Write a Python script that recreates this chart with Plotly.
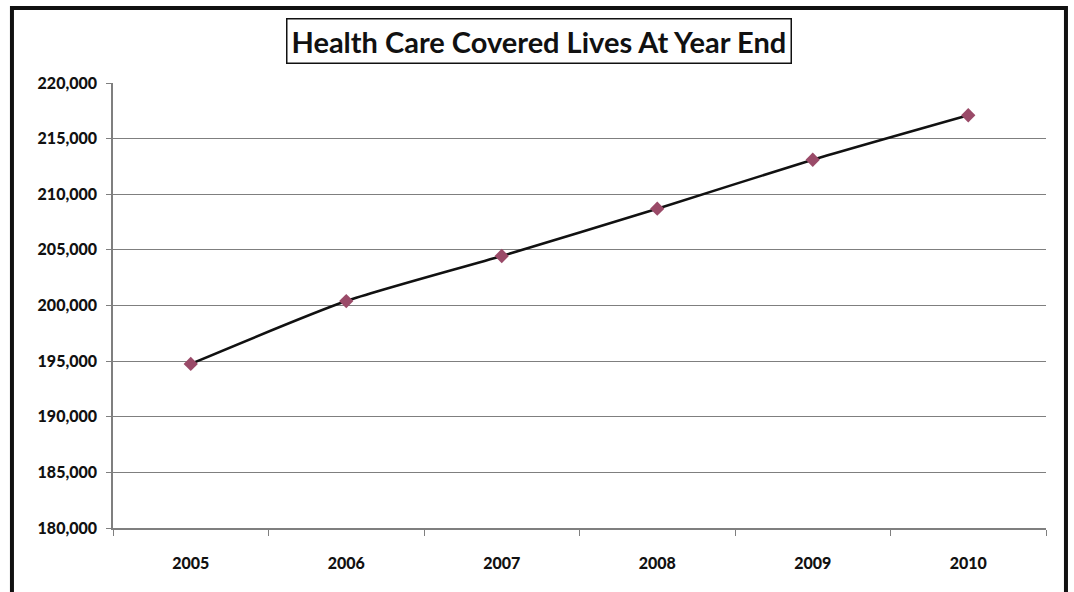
import plotly.graph_objects as go

# Covered lives at year end
years = ["2005", "2006", "2007", "2008", "2009", "2010"]
covered_lives = [194750, 200400, 204450, 208700, 213100, 217100]

y_tick_values = [180000, 185000, 190000, 195000, 200000, 205000, 210000, 215000, 220000]
y_tick_labels = ["180,000", "185,000", "190,000", "195,000", "200,000",
                 "205,000", "210,000", "215,000", "220,000"]

title_text = "Health Care Covered Lives At Year End"

FONT = "Lato, 'Open Sans', sans-serif"
GRID = "#7f7f7f"

fig = go.Figure()
fig.add_trace(go.Scatter(
    x=years,
    y=covered_lives,
    mode="lines+markers",
    line=dict(color="#111111", width=2.5, shape="spline", smoothing=0.6),
    marker=dict(symbol="diamond", size=11, color="#9a4a68"),
    showlegend=False,
    hoverinfo="x+y",
))

fig.update_layout(
    width=1074,
    height=592,
    margin=dict(l=113, r=28, t=83, b=64),
    paper_bgcolor="white",
    plot_bgcolor="white",
    font=dict(family=FONT, color="#111111", size=14),
    xaxis=dict(
        type="category",
        range=[-0.5, 5.5],
        showgrid=False,
        showline=True,
        linecolor=GRID,
        linewidth=1.5,
        ticks="outside",
        tickson="boundaries",
        ticklen=6,
        tickcolor=GRID,
        tickfont=dict(family=FONT, size=16, weight=900, color="#111111"),
        ticklabelstandoff=20,
    ),
    yaxis=dict(
        range=[180000, 220000],
        tickvals=y_tick_values,
        ticktext=y_tick_labels,
        showgrid=True,
        gridcolor=GRID,
        gridwidth=1.2,
        showline=True,
        linecolor=GRID,
        linewidth=1.5,
        ticks="outside",
        ticklen=5,
        tickcolor=GRID,
        tickfont=dict(family=FONT, size=16, weight=900, color="#111111"),
        ticklabelstandoff=6,
        zeroline=False,
    ),
    annotations=[dict(
        text=title_text,
        xref="paper", yref="paper",
        x=0.4566, y=1.0933,
        xanchor="center", yanchor="middle",
        showarrow=False,
        font=dict(family=FONT, size=29, weight="bold", color="#111111"),
        bordercolor="#111111",
        borderwidth=1.5,
        borderpad=4,
        bgcolor="white",
    )],
    shapes=[dict(
        type="rect",
        xref="paper", yref="paper",
        x0=-0.1083, x1=1.0214, y0=-0.17, y1=1.1685,
        line=dict(color="#111111", width=4),
        layer="below",
    )],
)

fig.write_html("out.html")
